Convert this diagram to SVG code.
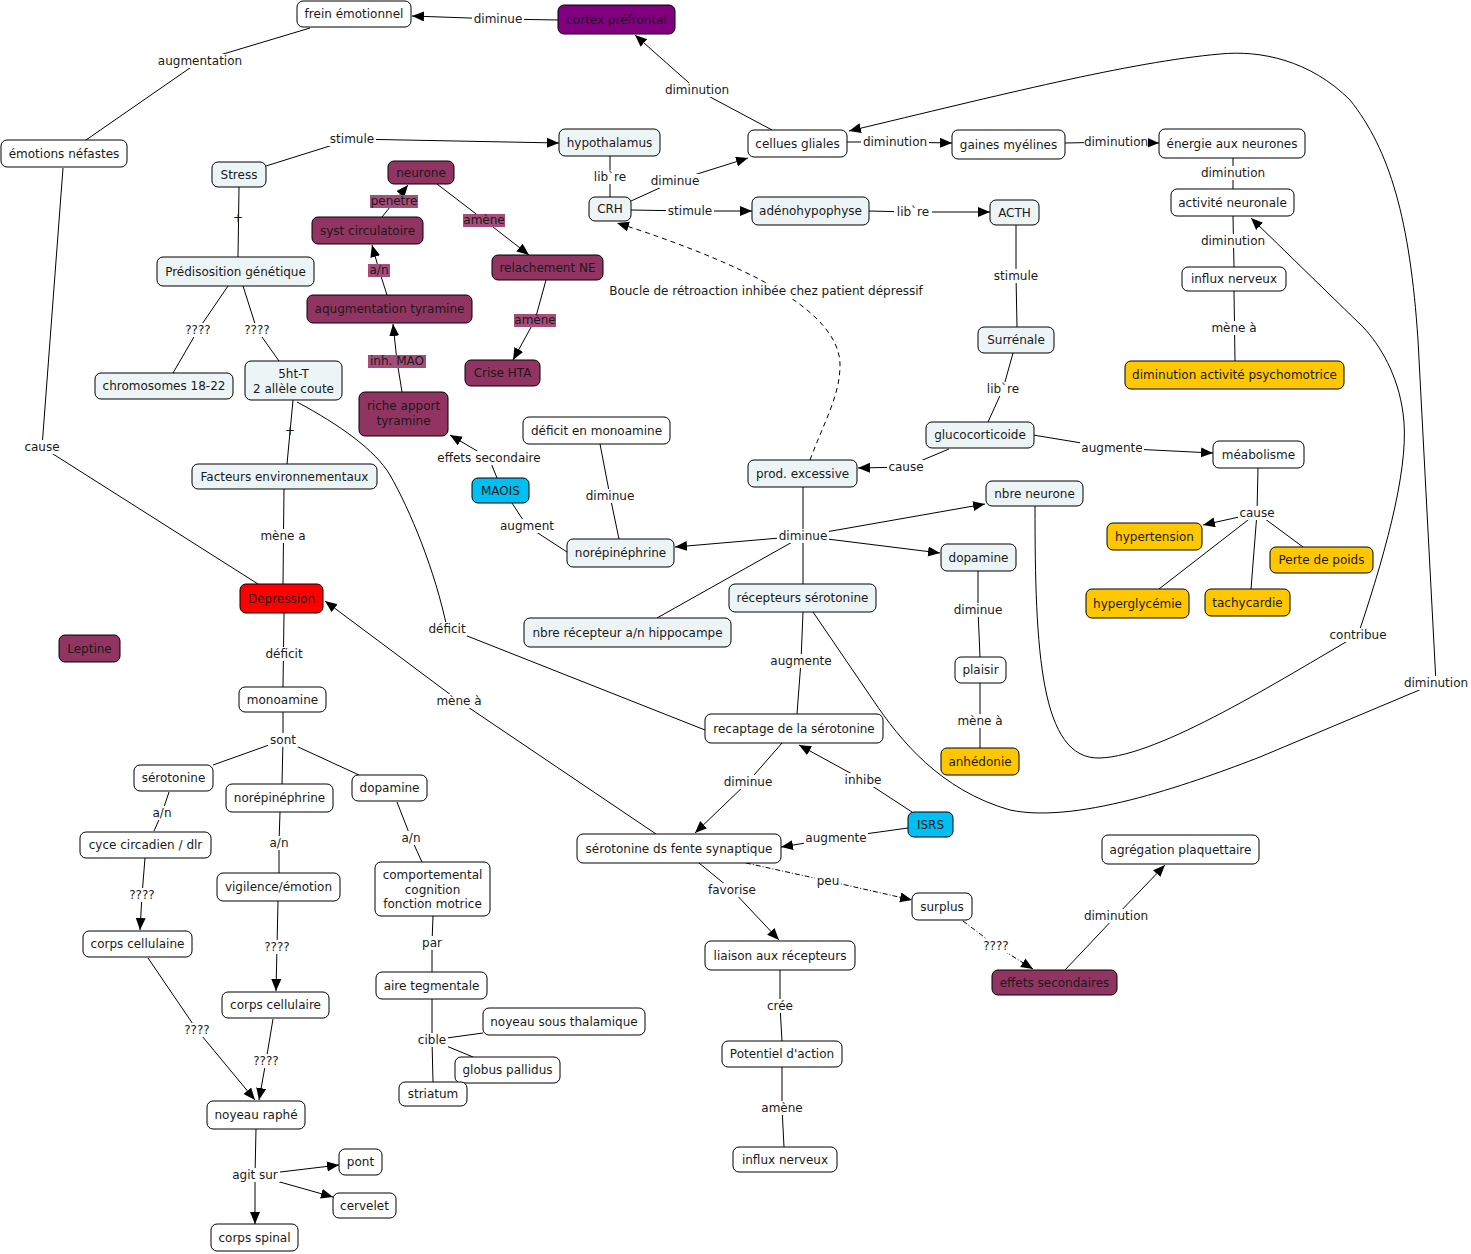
<svg xmlns="http://www.w3.org/2000/svg" width="1471" height="1254" viewBox="0 0 1471 1254">
<defs>
<marker id="ah" markerUnits="userSpaceOnUse" markerWidth="13" markerHeight="11" refX="12" refY="5" orient="auto"><path d="M0,0 L12,5 L0,10 z" fill="#000"/></marker>
<style>
text{font-family:"DejaVu Sans",Verdana,sans-serif;font-size:12px;fill:#1a1a1a;text-anchor:middle}
.nd rect{stroke:#000;stroke-width:1}
.w{fill:#fff}.b{fill:#edf4f6}.m{fill:#923462}.p{fill:#800080}.r{fill:#ff0000}.c{fill:#00bff3}.y{fill:#ffc700}
#links path{fill:none;stroke:#000;stroke-width:1}
#links path.a{marker-end:url(#ah)}
#links path.dash{stroke-dasharray:5,4}
#links path.dd{stroke-dasharray:5,2,1,2}
#labels rect{fill:#fff}
#labels rect.pk{fill:#a64d7b}
</style>
</defs>
<rect width="1471" height="1254" fill="#fff"/>
<g id="links">
<path d="M558,20 L498,19"/><path class="a" d="M498,19 L412,16"/>
<path d="M310,28 L200,61 L86,140"/>
<path d="M772,130 L697,90"/><path class="a" d="M697,90 L635,35"/>
<path d="M266,166 L352,139"/><path class="a" d="M352,139 L559,143"/>
<path d="M239,187 L238,257"/>
<path d="M610,156 L610,197"/>
<path d="M631,201 L675,181"/><path class="a" d="M675,181 L748,158"/>
<path d="M631,210 L690,211"/><path class="a" d="M690,211 L752,211"/>
<path d="M869,211 L913,212"/><path class="a" d="M913,212 L990,212"/>
<path d="M1016,225 L1016,276 L1017,327"/>
<path d="M1013,353 L1003,389 L988,422"/>
<path d="M949,449 L906,467"/><path class="a" d="M906,467 L858,468"/>
<path d="M1033,435 L1112,448"/><path class="a" d="M1112,448 L1213,453"/>
<path d="M1258,468 L1257,513"/><path class="a" d="M1257,513 L1203,525"/>
<path d="M1257,513 L1159,589"/><path d="M1257,513 L1251,589"/><path d="M1257,513 L1303,547"/>
<path d="M847,142 L895,142"/><path class="a" d="M895,142 L952,143"/>
<path d="M1065,143 L1116,142"/><path class="a" d="M1116,142 L1159,143"/>
<path d="M1233,158 L1233,189"/>
<path d="M1233,216 L1234,267"/>
<path d="M1234,291 L1235,361"/>
<path class="a dash" d="M810,460 C825,420 840,395 840,365 C840,330 800,300 755,277 C715,257 665,238 617,223"/>
<path d="M63,168 L42,447 L258,584"/>
<path d="M228,286 L198,330 L173,373"/>
<path d="M243,286 L257,330 L279,361"/>
<path d="M293,400 L287,464"/>
<path d="M284,489 L283,584"/>
<path d="M284,613 L283,687"/>
<path d="M297,402 C340,425 375,450 390,475 C410,510 435,570 447,628 L705,730"/>
<path d="M656,834 L459,701"/><path class="a" d="M459,701 L325,601"/>
<path d="M387,295 L379,270"/><path class="a" d="M379,270 L372,245"/>
<path d="M382,217 L394,202"/><path class="a" d="M394,202 L408,185"/>
<path d="M437,184 L484,220"/><path class="a" d="M484,220 L529,255"/>
<path d="M546,280 L535,320"/><path class="a" d="M535,320 L513,360"/>
<path d="M402,392 L397,361"/><path class="a" d="M397,361 L393,324"/>
<path d="M497,478 L489,458"/><path class="a" d="M489,458 L450,435"/>
<path d="M512,503 L527,526 L567,552"/>
<path d="M600,444 L610,496 L619,539"/>
<path d="M803,487 L803,536 L803,584"/>
<path class="a" d="M803,536 L675,547"/>
<path class="a" d="M803,536 L985,504"/>
<path class="a" d="M803,536 L940,553"/>
<path d="M803,536 L657,618"/>
<path d="M803,612 L801,661 L797,714"/>
<path d="M978,571 L978,610 L980,657"/>
<path d="M980,683 L980,748"/>
<path d="M782,743 L748,782"/><path class="a" d="M748,782 L695,833"/>
<path d="M912,812 L863,780"/><path class="a" d="M863,780 L799,745"/>
<path d="M908,828 L836,838"/><path class="a" d="M836,838 L781,847"/>
<path d="M699,863 L732,890"/><path class="a" d="M732,890 L779,940"/>
<path class="a dd" d="M746,863 L828,881 L912,900"/>
<path class="a dd" d="M963,921 L996,946 L1033,969"/>
<path d="M1065,970 L1116,916"/><path class="a" d="M1116,916 L1165,865"/>
<path d="M780,970 L780,1006 L782,1041"/>
<path d="M782,1067 L782,1108 L784,1147"/>
<path d="M283,712 L283,740"/><path d="M283,740 L213,765"/><path d="M283,740 L282,784"/><path d="M283,740 L359,775"/>
<path d="M169,792 L162,813 L154,831"/>
<path d="M280,812 L279,843 L279,873"/>
<path d="M397,802 L411,838 L422,862"/>
<path d="M145,858 L142,895"/><path class="a" d="M142,895 L140,930"/>
<path d="M278,901 L277,947"/><path class="a" d="M277,947 L276,991"/>
<path d="M148,958 L197,1030"/><path class="a" d="M197,1030 L255,1100"/>
<path d="M273,1019 L266,1061"/><path class="a" d="M266,1061 L259,1100"/>
<path d="M433,916 L432,943 L432,973"/>
<path d="M432,999 L432,1040 L433,1082"/><path d="M432,1040 L483,1033"/><path d="M432,1040 L473,1057"/>
<path d="M256,1129 L255,1175"/><path class="a" d="M255,1175 L339,1165"/><path class="a" d="M255,1175 L333,1197"/><path class="a" d="M255,1175 L255,1224"/>
<path d="M1035,506 C1035,650 1040,760 1100,758 C1160,756 1280,680 1358,635"/>
<path class="a" d="M1358,635 C1390,540 1410,460 1403,413 C1398,375 1380,345 1363,327 L1251,218"/>
<path d="M813,612 L873,700 C900,740 940,790 1010,810 C1080,825 1200,780 1260,757 L1436,683"/>
<path class="a" d="M1436,683 L1418,340 C1410,220 1390,150 1350,100 C1310,60 1260,50 1220,54 C1130,62 1000,95 849,131"/>
</g>
<g id="labels">
<rect x="472" y="12" width="52" height="14"/><text x="498" y="23">diminue</text>
<rect x="156" y="54" width="87" height="14"/><text x="200" y="65">augmentation</text>
<rect x="663" y="83" width="68" height="14"/><text x="697" y="94">diminution</text>
<rect x="328" y="132" width="48" height="14"/><text x="352" y="143">stimule</text>
<text x="238" y="222">+</text>
<rect x="591" y="170" width="38" height="14"/><text x="610" y="181">lib`re</text>
<rect x="649" y="174" width="52" height="14"/><text x="675" y="185">diminue</text>
<rect x="666" y="204" width="48" height="14"/><text x="690" y="215">stimule</text>
<rect x="894" y="205" width="38" height="14"/><text x="913" y="216">lib`re</text>
<rect x="992" y="269" width="48" height="14"/><text x="1016" y="280">stimule</text>
<rect x="984" y="382" width="38" height="14"/><text x="1003" y="393">lib`re</text>
<rect x="887" y="460" width="38" height="14"/><text x="906" y="471">cause</text>
<rect x="1080" y="441" width="64" height="14"/><text x="1112" y="452">augmente</text>
<rect x="1238" y="506" width="38" height="14"/><text x="1257" y="517">cause</text>
<rect x="861" y="135" width="68" height="14"/><text x="895" y="146">diminution</text>
<rect x="1084" y="135" width="64" height="14"/><text x="1116" y="146">diminution</text>
<rect x="1199" y="166" width="68" height="14"/><text x="1233" y="177">diminution</text>
<rect x="1199" y="234" width="68" height="14"/><text x="1233" y="245">diminution</text>
<rect x="1209" y="321" width="50" height="14"/><text x="1234" y="332">mène à</text>
<rect x="608" y="283" width="317" height="16"/><text x="766" y="295">Boucle de rétroaction inhibée chez patient dépressif</text>
<rect x="23" y="440" width="38" height="14"/><text x="42" y="451">cause</text>
<rect x="183" y="323" width="30" height="14"/><text x="198" y="334">????</text>
<rect x="242" y="323" width="30" height="14"/><text x="257" y="334">????</text>
<text x="290" y="435">+</text>
<rect x="258" y="529" width="50" height="14"/><text x="283" y="540">mène a</text>
<rect x="264" y="647" width="40" height="14"/><text x="284" y="658">déficit</text>
<rect x="427" y="622" width="40" height="14"/><text x="447" y="633">déficit</text>
<rect x="435" y="694" width="50" height="14"/><text x="459" y="705">mène à</text>
<rect class="pk" x="368" y="264" width="22" height="13"/><text x="379" y="274">a/n</text>
<rect class="pk" x="370" y="195" width="48" height="13"/><text x="394" y="205">penetre</text>
<rect class="pk" x="463" y="214" width="42" height="13"/><text x="484" y="224">amène</text>
<rect class="pk" x="514" y="314" width="42" height="13"/><text x="535" y="324">amène</text>
<rect class="pk" x="368" y="355" width="58" height="13"/><text x="397" y="365">inh. MAO</text>
<rect x="436" y="451" width="107" height="14"/><text x="489" y="462">effets secondaire</text>
<rect x="499" y="519" width="57" height="14"/><text x="527" y="530">augment</text>
<rect x="584" y="489" width="52" height="14"/><text x="610" y="500">diminue</text>
<rect x="777" y="529" width="52" height="14"/><text x="803" y="540">diminue</text>
<rect x="769" y="654" width="64" height="14"/><text x="801" y="665">augmente</text>
<rect x="952" y="603" width="52" height="14"/><text x="978" y="614">diminue</text>
<rect x="955" y="714" width="50" height="14"/><text x="980" y="725">mène à</text>
<rect x="1328" y="628" width="60" height="14"/><text x="1358" y="639">contribue</text>
<rect x="1402" y="676" width="68" height="14"/><text x="1436" y="687">diminution</text>
<rect x="722" y="775" width="52" height="14"/><text x="748" y="786">diminue</text>
<rect x="843" y="773" width="40" height="14"/><text x="863" y="784">inhibe</text>
<rect x="804" y="831" width="64" height="14"/><text x="836" y="842">augmente</text>
<rect x="706" y="883" width="52" height="14"/><text x="732" y="894">favorise</text>
<rect x="815" y="874" width="26" height="14"/><text x="828" y="885">peu</text>
<rect x="981" y="939" width="30" height="14"/><text x="996" y="950">????</text>
<rect x="1082" y="909" width="68" height="14"/><text x="1116" y="920">diminution</text>
<rect x="765" y="999" width="30" height="14"/><text x="780" y="1010">crée</text>
<rect x="759" y="1101" width="46" height="14"/><text x="782" y="1112">amène</text>
<rect x="268" y="733" width="30" height="14"/><text x="283" y="744">sont</text>
<rect x="150" y="806" width="24" height="14"/><text x="162" y="817">a/n</text>
<rect x="267" y="836" width="24" height="14"/><text x="279" y="847">a/n</text>
<rect x="399" y="831" width="24" height="14"/><text x="411" y="842">a/n</text>
<rect x="127" y="888" width="30" height="14"/><text x="142" y="899">????</text>
<rect x="262" y="940" width="30" height="14"/><text x="277" y="951">????</text>
<rect x="182" y="1023" width="30" height="14"/><text x="197" y="1034">????</text>
<rect x="251" y="1054" width="30" height="14"/><text x="266" y="1065">????</text>
<rect x="420" y="936" width="24" height="14"/><text x="432" y="947">par</text>
<rect x="416" y="1033" width="32" height="14"/><text x="432" y="1044">cible</text>
<rect x="230" y="1168" width="50" height="14"/><text x="255" y="1179">agit sur</text>
</g>
<g id="nodes">
<g id="n-frein" class="nd"><rect class="w" x="297" y="1" width="114" height="26" rx="6"/><text x="354" y="18">frein émotionnel</text></g>
<g id="n-cortex" class="nd"><rect class="p" x="558" y="5" width="117" height="29" rx="6"/><text x="616.5" y="24">cortex préfrontal</text></g>
<g id="n-emotions" class="nd"><rect class="w" x="1" y="140" width="126" height="27" rx="6"/><text x="64" y="158">émotions néfastes</text></g>
<g id="n-stress" class="nd"><rect class="b" x="212" y="162" width="54" height="25" rx="6"/><text x="239" y="179">Stress</text></g>
<g id="n-hypothalamus" class="nd"><rect class="b" x="559" y="129" width="101" height="27" rx="6"/><text x="609.5" y="147">hypothalamus</text></g>
<g id="n-neurone" class="nd"><rect class="m" x="388" y="161" width="66" height="23" rx="6"/><text x="421" y="177">neurone</text></g>
<g id="n-syst" class="nd"><rect class="m" x="312" y="217" width="111" height="27" rx="6"/><text x="367.5" y="235">syst circulatoire</text></g>
<g id="n-relachement" class="nd"><rect class="m" x="492" y="255" width="111" height="25" rx="6"/><text x="547.5" y="272">relachement NE</text></g>
<g id="n-aqug" class="nd"><rect class="m" x="307" y="295" width="165" height="28" rx="6"/><text x="389.5" y="313">aqugmentation tyramine</text></g>
<g id="n-crise" class="nd"><rect class="m" x="465" y="360" width="75" height="26" rx="6"/><text x="502.5" y="377">Crise HTA</text></g>
<g id="n-riche" class="nd"><rect class="m" x="359" y="392" width="89" height="44" rx="6"/><text x="403.5" y="410">riche apport</text><text x="403.5" y="425">tyramine</text></g>
<g id="n-predisposition" class="nd"><rect class="b" x="157" y="257" width="157" height="29" rx="6"/><text x="235.5" y="276">Prédisosition génétique</text></g>
<g id="n-chromosomes" class="nd"><rect class="b" x="95" y="373" width="138" height="26" rx="6"/><text x="164" y="390">chromosomes 18-22</text></g>
<g id="n-5ht" class="nd"><rect class="b" x="245" y="361" width="97" height="39" rx="6"/><text x="293.5" y="378">5ht-T</text><text x="293.5" y="393">2 allèle coute</text></g>
<g id="n-facteurs" class="nd"><rect class="b" x="192" y="464" width="185" height="25" rx="6"/><text x="284.5" y="481">Facteurs environnementaux</text></g>
<g id="n-depression" class="nd"><rect class="r" x="240" y="584" width="83" height="29" rx="6"/><text x="281.5" y="603">Dépression</text></g>
<g id="n-leptine" class="nd"><rect class="m" x="59" y="635" width="61" height="27" rx="6"/><text x="89.5" y="653">Leptine</text></g>
<g id="n-monoamine" class="nd"><rect class="w" x="239" y="687" width="87" height="25" rx="6"/><text x="282.5" y="704">monoamine</text></g>
<g id="n-crh" class="nd"><rect class="b" x="589" y="197" width="42" height="24" rx="6"/><text x="610" y="213">CRH</text></g>
<g id="n-cellues" class="nd"><rect class="w" x="748" y="130" width="99" height="27" rx="6"/><text x="797.5" y="148">cellues gliales</text></g>
<g id="n-gaines" class="nd"><rect class="w" x="952" y="130" width="113" height="29" rx="6"/><text x="1008.5" y="149">gaines myélines</text></g>
<g id="n-energie" class="nd"><rect class="w" x="1159" y="129" width="146" height="29" rx="6"/><text x="1232" y="148">énergie aux neurones</text></g>
<g id="n-acth" class="nd"><rect class="b" x="990" y="200" width="49" height="25" rx="6"/><text x="1014.5" y="217">ACTH</text></g>
<g id="n-adeno" class="nd"><rect class="b" x="752" y="197" width="117" height="28" rx="6"/><text x="810.5" y="215">adénohypophyse</text></g>
<g id="n-activite" class="nd"><rect class="w" x="1171" y="189" width="123" height="27" rx="6"/><text x="1232.5" y="207">activité neuronale</text></g>
<g id="n-influx1" class="nd"><rect class="w" x="1182" y="267" width="104" height="24" rx="6"/><text x="1234" y="283">influx nerveux</text></g>
<g id="n-psycho" class="nd"><rect class="y" x="1125" y="361" width="219" height="28" rx="6"/><text x="1234.5" y="379">diminution activité psychomotrice</text></g>
<g id="n-surrenale" class="nd"><rect class="b" x="978" y="327" width="76" height="26" rx="6"/><text x="1016" y="344">Surrénale</text></g>
<g id="n-gluco" class="nd"><rect class="b" x="926" y="422" width="108" height="26" rx="6"/><text x="980" y="439">glucocorticoide</text></g>
<g id="n-meabolisme" class="nd"><rect class="w" x="1213" y="441" width="91" height="27" rx="6"/><text x="1258.5" y="459">méabolisme</text></g>
<g id="n-nbreneurone" class="nd"><rect class="b" x="986" y="481" width="97" height="25" rx="6"/><text x="1034.5" y="498">nbre neurone</text></g>
<g id="n-dopamineR" class="nd"><rect class="b" x="941" y="544" width="75" height="27" rx="6"/><text x="978.5" y="562">dopamine</text></g>
<g id="n-hypertension" class="nd"><rect class="y" x="1107" y="523" width="95" height="27" rx="6"/><text x="1154.5" y="541">hypertension</text></g>
<g id="n-perte" class="nd"><rect class="y" x="1270" y="547" width="103" height="26" rx="6"/><text x="1321.5" y="564">Perte de poids</text></g>
<g id="n-hyperglycemie" class="nd"><rect class="y" x="1086" y="589" width="103" height="29" rx="6"/><text x="1137.5" y="608">hyperglycémie</text></g>
<g id="n-tachycardie" class="nd"><rect class="y" x="1205" y="589" width="85" height="27" rx="6"/><text x="1247.5" y="607">tachycardie</text></g>
<g id="n-plaisir" class="nd"><rect class="w" x="955" y="657" width="51" height="26" rx="6"/><text x="980.5" y="674">plaisir</text></g>
<g id="n-anhedonie" class="nd"><rect class="y" x="941" y="748" width="78" height="27" rx="6"/><text x="980" y="766">anhédonie</text></g>
<g id="n-deficitmono" class="nd"><rect class="w" x="523" y="417" width="147" height="27" rx="6"/><text x="596.5" y="435">déficit en monoamine</text></g>
<g id="n-maois" class="nd"><rect class="c" x="472" y="478" width="57" height="25" rx="6"/><text x="500.5" y="495">MAOIS</text></g>
<g id="n-norM" class="nd"><rect class="b" x="567" y="539" width="107" height="28" rx="6"/><text x="620.5" y="557">norépinéphrine</text></g>
<g id="n-prod" class="nd"><rect class="b" x="748" y="460" width="109" height="27" rx="6"/><text x="802.5" y="478">prod. excessive</text></g>
<g id="n-recsero" class="nd"><rect class="b" x="729" y="584" width="147" height="28" rx="6"/><text x="802.5" y="602">récepteurs sérotonine</text></g>
<g id="n-hippo" class="nd"><rect class="b" x="524" y="618" width="207" height="29" rx="6"/><text x="627.5" y="637">nbre récepteur a/n hippocampe</text></g>
<g id="n-recaptage" class="nd"><rect class="w" x="705" y="714" width="178" height="29" rx="6"/><text x="794" y="733">recaptage de la sérotonine</text></g>
<g id="n-isrs" class="nd"><rect class="c" x="908" y="812" width="45" height="25" rx="6"/><text x="930.5" y="829">ISRS</text></g>
<g id="n-fente" class="nd"><rect class="w" x="577" y="834" width="204" height="29" rx="6"/><text x="679" y="853">sérotonine ds fente synaptique</text></g>
<g id="n-surplus" class="nd"><rect class="w" x="912" y="893" width="60" height="27" rx="6"/><text x="942" y="911">surplus</text></g>
<g id="n-liaison" class="nd"><rect class="w" x="705" y="941" width="150" height="29" rx="6"/><text x="780" y="960">liaison aux récepteurs</text></g>
<g id="n-potentiel" class="nd"><rect class="w" x="722" y="1041" width="120" height="26" rx="6"/><text x="782" y="1058">Potentiel d'action</text></g>
<g id="n-influx2" class="nd"><rect class="w" x="733" y="1147" width="104" height="25" rx="6"/><text x="785" y="1164">influx nerveux</text></g>
<g id="n-effets" class="nd"><rect class="m" x="992" y="970" width="125" height="25" rx="6"/><text x="1054.5" y="987">effets secondaires</text></g>
<g id="n-agregation" class="nd"><rect class="w" x="1102" y="835" width="157" height="29" rx="6"/><text x="1180.5" y="854">agrégation plaquettaire</text></g>
<g id="n-seroL" class="nd"><rect class="w" x="134" y="765" width="79" height="26" rx="6"/><text x="173.5" y="782">sérotonine</text></g>
<g id="n-norL" class="nd"><rect class="w" x="226" y="784" width="107" height="28" rx="6"/><text x="279.5" y="802">norépinéphrine</text></g>
<g id="n-dopL" class="nd"><rect class="w" x="352" y="775" width="75" height="26" rx="6"/><text x="389.5" y="792">dopamine</text></g>
<g id="n-cyce" class="nd"><rect class="w" x="80" y="832" width="131" height="26" rx="6"/><text x="145.5" y="849">cyce circadien / dlr</text></g>
<g id="n-vigilence" class="nd"><rect class="w" x="217" y="873" width="123" height="28" rx="6"/><text x="278.5" y="891">vigilence/émotion</text></g>
<g id="n-comport" class="nd"><rect class="w" x="375" y="862" width="115" height="54" rx="6"/><text x="432.5" y="879">comportemental</text><text x="432.5" y="894">cognition</text><text x="432.5" y="908">fonction motrice</text></g>
<g id="n-cellulaine" class="nd"><rect class="w" x="83" y="931" width="109" height="26" rx="6"/><text x="137.5" y="948">corps cellulaine</text></g>
<g id="n-cellulaire" class="nd"><rect class="w" x="222" y="992" width="107" height="26" rx="6"/><text x="275.5" y="1009">corps cellulaire</text></g>
<g id="n-aire" class="nd"><rect class="w" x="376" y="972" width="111" height="27" rx="6"/><text x="431.5" y="990">aire tegmentale</text></g>
<g id="n-noyeausous" class="nd"><rect class="w" x="483" y="1008" width="162" height="27" rx="6"/><text x="564" y="1026">noyeau sous thalamique</text></g>
<g id="n-globus" class="nd"><rect class="w" x="455" y="1057" width="105" height="26" rx="6"/><text x="507.5" y="1074">globus pallidus</text></g>
<g id="n-striatum" class="nd"><rect class="w" x="399" y="1082" width="68" height="24" rx="6"/><text x="433" y="1098">striatum</text></g>
<g id="n-raphe" class="nd"><rect class="w" x="207" y="1101" width="98" height="28" rx="6"/><text x="256" y="1119">noyeau raphé</text></g>
<g id="n-pont" class="nd"><rect class="w" x="339" y="1149" width="43" height="26" rx="6"/><text x="360.5" y="1166">pont</text></g>
<g id="n-cervelet" class="nd"><rect class="w" x="333" y="1193" width="63" height="25" rx="6"/><text x="364.5" y="1210">cervelet</text></g>
<g id="n-spinal" class="nd"><rect class="w" x="211" y="1224" width="87" height="27" rx="6"/><text x="254.5" y="1242">corps spinal</text></g>
</g>
</svg>
